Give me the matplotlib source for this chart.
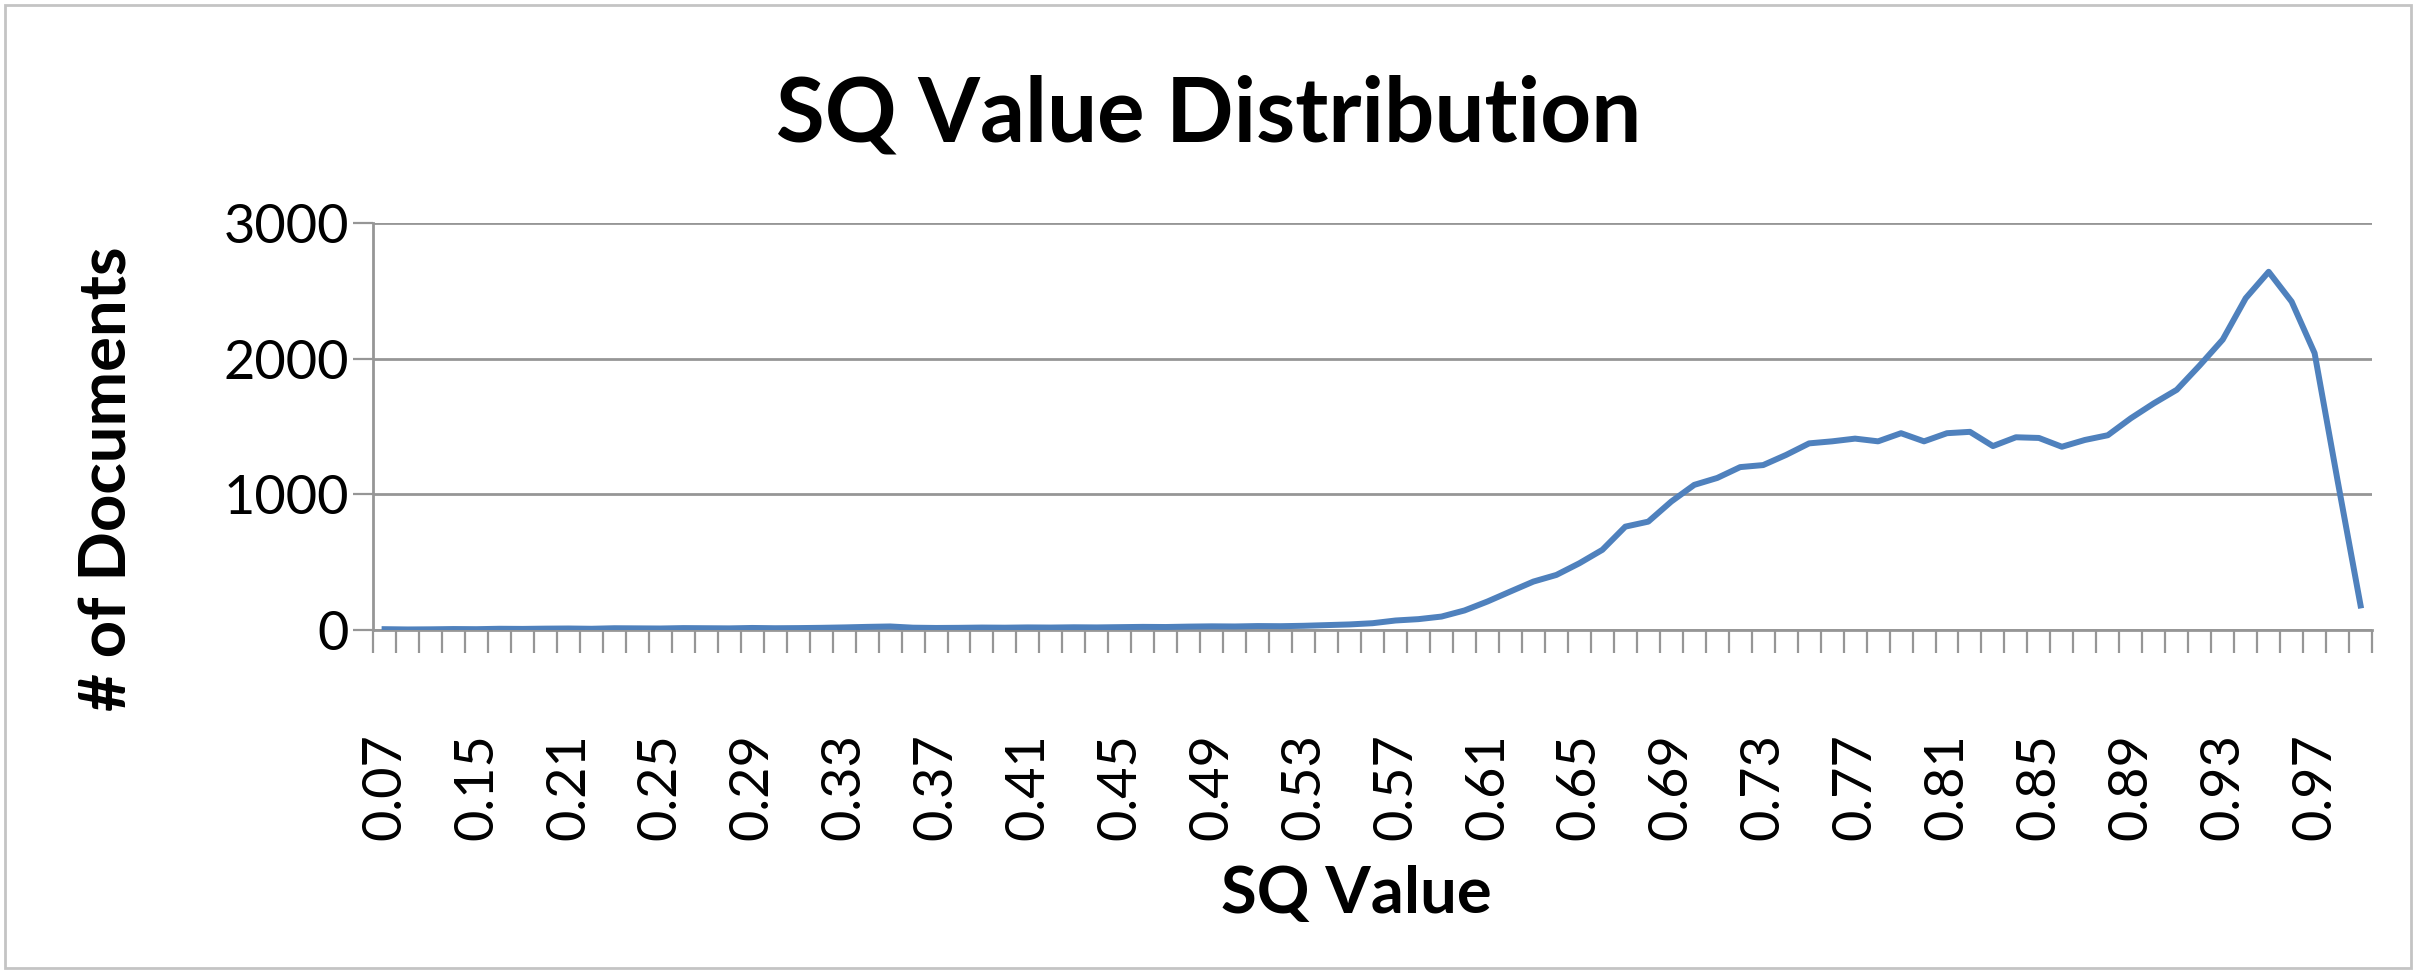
import matplotlib.pyplot as plt
import matplotlib.ticker as ticker
import matplotlib.patches as patches

plt.rcParams['font.family'] = ['Lato', 'DejaVu Sans']

# SQ value categories (first few bins are sparse)
sqValues = ['0.07', '0.09', '0.11', '0.13', '0.15', '0.17', '0.19', '0.2'] + \
           ['{:.2f}'.format(v / 100) for v in range(21, 100)]

docCounts = [5, 3, 4, 6, 5, 8, 7, 9,
             10, 8, 12, 11, 10, 13, 12, 11, 14, 12, 13, 15,
             18, 22, 25, 16, 14, 15, 17, 16, 18, 17, 19, 18, 20, 22, 21, 24, 26, 25, 28, 27,
             30, 35, 40, 49, 69, 79, 98, 143, 209, 283, 356, 405, 491, 590, 761, 798, 946, 1069,
             1120, 1200, 1215, 1290, 1375, 1390, 1410, 1390, 1450, 1390, 1450, 1460, 1355, 1420,
             1415, 1350, 1400, 1435, 1560, 1670, 1770, 1950, 2140, 2445, 2640, 2420, 2040, 1100, 180]

yTicks = [0, 1000, 2000, 3000]

gridColor = '#969696'

fig = plt.figure(figsize=(24.18, 9.72), dpi=100)
ax = fig.add_axes([0.1543, 0.352, 0.8267, 0.4186])

xs = list(range(len(docCounts)))
ax.plot(xs, docCounts, color='#4F81BD', linewidth=4.3, solid_joinstyle='round', zorder=3)

ax.set_xlim(-0.5, len(docCounts) - 0.5)
ax.set_ylim(0, 3000)

# labels every 4th category, tick marks between categories
ax.set_xticks(xs[::4])
ax.set_xticklabels(sqValues[::4], rotation=90)
ax.xaxis.set_minor_locator(ticker.FixedLocator([x - 0.5 for x in xs] + [xs[-1] + 0.5]))
ax.tick_params(axis='x', which='major', length=0, pad=74, labelsize=39)
ax.tick_params(axis='x', which='minor', length=16.5, width=1.6, color=gridColor, direction='out')

ax.set_yticks(yTicks)
ax.yaxis.set_major_formatter(ticker.StrMethodFormatter('{x:.0f}'))
ax.tick_params(axis='y', which='major', length=14.4, width=1.6, color=gridColor,
               direction='out', pad=3, labelsize=39)

ax.grid(axis='y', color=gridColor, linestyle='-', linewidth=2, zorder=0)
ax.set_axisbelow(True)

for side in ['top', 'right']:
    ax.spines[side].set_visible(False)
for side in ['left', 'bottom']:
    ax.spines[side].set_color(gridColor)
    ax.spines[side].set_linewidth(2)

fig.text(0.5, 0.881, 'SQ Value Distribution', ha='center', va='center',
         fontsize=64, fontweight='bold')
fig.text(0.561, 0.080, 'SQ Value', ha='center', va='center', fontsize=47, fontweight='bold')
fig.text(0.0447, 0.508, '# of Documents', ha='center', va='center', rotation=90,
         fontsize=47, fontweight='bold')

fig.patches.append(patches.Rectangle((0.002, 0.004), 0.995, 0.991, transform=fig.transFigure,
                                     fill=False, edgecolor='#c4c4c4', linewidth=2))

plt.savefig('out.png', dpi=100)
